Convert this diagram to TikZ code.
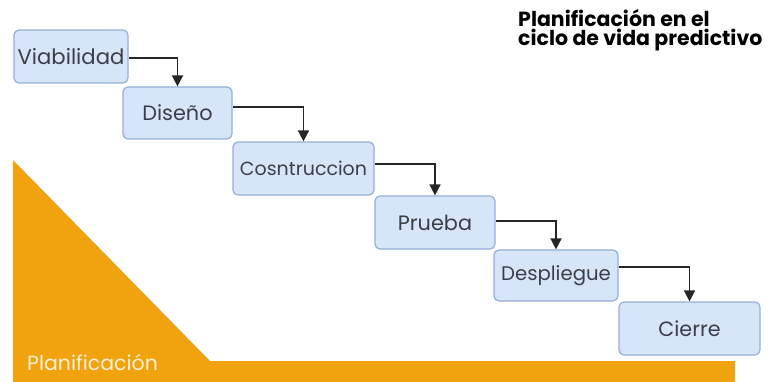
\documentclass[tikz,border=0pt]{standalone}
\usepackage{fontspec}
\setmainfont{Poppins}
\usetikzlibrary{arrows.meta}
\definecolor{boxfill}{HTML}{D7E5F9}
\definecolor{boxline}{HTML}{93AFD8}
\definecolor{planorange}{HTML}{F0A30F}
\definecolor{textgray}{HTML}{3C3F4A}
\definecolor{labelcream}{HTML}{FCEFD4}
\begin{document}
\begin{tikzpicture}[x=1pt,y=-1pt,
  stage/.style={draw=boxline, fill=boxfill, line width=1.2pt, rounded corners=5pt,
    text=textgray, inner sep=0pt, font=\fontsize{20.8}{22}\selectfont},
  flow/.style={-{Triangle[width=11pt,length=11pt]}, line width=1.6pt, draw=black!85}]
\useasboundingbox (0,0) rectangle (773,382);
% planning wedge
\fill[planorange] (13,160) -- (210,361) -- (735,361) -- (735,382) -- (13,382) -- cycle;
\node[anchor=base west, inner sep=0pt, text=labelcream, font=\fontsize{20.5}{22}\selectfont] (plan) at (27,370) {Planificación};
% title (base anchor sits on the last line)
\node[anchor=base west, align=left, inner sep=0pt, text=black,
  font=\bfseries\fontsize{20.5}{19.5}\selectfont] (title) at (518,46) {Planificación en el\\ciclo de vida predictivo};
% stages
\node[stage, minimum width=114pt, minimum height=53pt, font=\fontsize{21.2}{22}\selectfont] (via) at (71,56.5) {Viabilidad};
\node[stage, minimum width=109pt, minimum height=52pt] (dis) at (177.5,113) {Diseño};
\node[stage, minimum width=141pt, minimum height=53pt, font=\fontsize{19}{20}\selectfont] (con) at (303.5,168.5) {Cosntruccion};
\node[stage, minimum width=120pt, minimum height=53pt] (pru) at (435,222.5) {Prueba};
\node[stage, minimum width=124pt, minimum height=51pt, font=\fontsize{19.7}{21}\selectfont] (des) at (556,275.5) {Despliegue};
\node[stage, minimum width=141pt, minimum height=53pt, font=\fontsize{20.7}{22}\selectfont] (cie) at (689.5,328.5) {Cierre};
% connectors
\draw[flow] ([yshift=-1.5pt]via.east) -| (dis.north);
\draw[flow] ([yshift=6pt]dis.east) -| (con.north);
\draw[flow] ([yshift=4.5pt]con.east) -| (pru.north);
\draw[flow] ([yshift=1.5pt]pru.east) -| (des.north);
\draw[flow] ([yshift=8.5pt]des.east) -| (cie.north);
\end{tikzpicture}
\end{document}
